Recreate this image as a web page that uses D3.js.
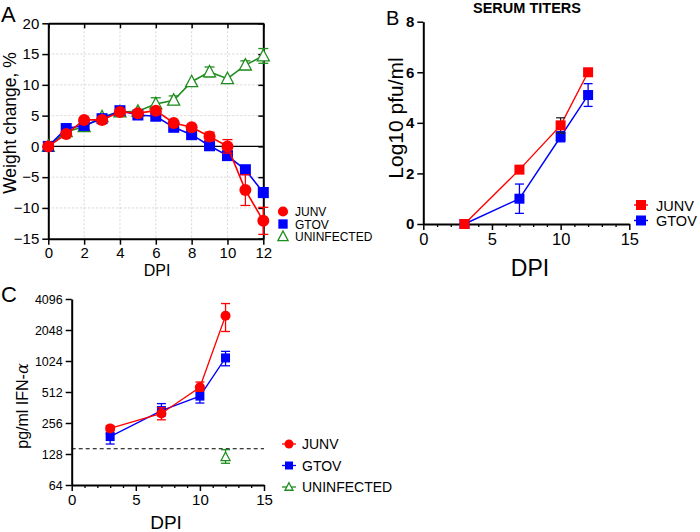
<!DOCTYPE html>
<html><head><meta charset="utf-8">
<script src="https://cdn.jsdelivr.net/npm/d3@7"></script>
<style>body{margin:0;background:#fff}svg{font-family:Arial,"Liberation Sans",sans-serif}</style>
</head><body><svg id="c" width="700" height="532"></svg>
<script>
// Panel A: weight change
const daysA = [0,1,2,3,4,5,6,7,8,9,10,11,12];
const junvA = [0,2.0,4.3,4.3,5.6,5.4,5.8,3.8,3.1,1.6,0,-7.1,-12.1];
const junvAerr = [0,0.3,0.3,0.3,0.3,0.3,0.4,0.4,0.4,0.7,1.1,2.5,2.2];
const gtovA = [0,2.9,3.4,4.5,5.8,5.1,4.9,3.1,1.9,0.1,-1.5,-3.8,-7.5];
const gtovAerr = [0,0.4,0.4,0.4,0.4,0.5,0.5,0.5,0.5,0.5,0.6,0.7,0.8];
const uninfA = [0,2.4,3.2,4.8,5.6,5.7,6.9,7.5,10.5,12.1,11.0,13.2,14.7];
const uninfAerr = [0,0.3,0.3,0.3,0.3,0.4,1.0,0.7,0.4,0.8,0.4,0.7,1.2];
const yTicksA = [-15,-10,-5,0,5,10,15,20];
const xTicksA = [0,2,4,6,8,10,12];
// Panel B: serum titers
const daysB = [3,7,10,12];
const junvB = [0,2.15,3.9,6.0];
const junvBerr = [0,0.1,0.3,0.1];
const gtovB = [0,1.0,3.45,5.1];
const gtovBerr = [0,0.58,0.2,0.45];
const yTicksB = [0,2,4,6,8];
const xTicksBC = [0,5,10,15];
// Panel C: IFN-alpha
const daysC = [3,7,10,12];
const junvC = [227,317,569,2818];
const junvClo = [215,275,520,1980];
const junvChi = [240,360,640,3700];
const gtovC = [189,338,467,1097];
const gtovClo = [160,300,400,920];
const gtovChi = [200,395,540,1270];
const uninfDayC = [12];
const uninfC = [120];
const uninfClo = [104];
const uninfChi = [141];
const limitC = 144;
const yTicksC = [64,128,256,512,1024,2048,4096];

const RED="#ff0000", BLUE="#0000ff", GREEN="#1e8c1e";
const svg = d3.select("#c");

function sym(g, type, x, y, color, size, open){
  if(type==="circle") g.append("circle").attr("cx",x).attr("cy",y).attr("r",size/2).attr("fill",color);
  else if(type==="square") g.append("rect").attr("x",x-size/2).attr("y",y-size/2).attr("width",size).attr("height",size).attr("fill",color);
  else { const h=size*0.9; g.append("path").attr("d",`M${x},${y-h*0.6}L${x+size/2},${y+h*0.45}L${x-size/2},${y+h*0.45}Z`).attr("fill",open?"#fff":color).attr("stroke",color).attr("stroke-width",1.3);}
}
function errbar(g,x,y1,y2,color,cap){
  g.append("line").attr("x1",x).attr("x2",x).attr("y1",y1).attr("y2",y2).attr("stroke",color).attr("stroke-width",1.3);
  [y1,y2].forEach(yy=>g.append("line").attr("x1",x-cap).attr("x2",x+cap).attr("y1",yy).attr("y2",yy).attr("stroke",color).attr("stroke-width",1.3));
}
function styleAxis(a,fs){a.select(".domain").attr("stroke-width",2);a.selectAll(".tick line").attr("stroke-width",1.5);a.selectAll("text").attr("font-size",fs).attr("fill","#000").attr("font-family","Arial,Liberation Sans,sans-serif");}

// ---------- Panel A ----------
{
const x = d3.scaleLinear().domain([0,12]).range([48.3,263.3]);
const y = d3.scaleLinear().domain([-15,20]).range([238.7,23.3]);
const g = svg.append("g");
g.selectAll(".gx").data(xTicksA.slice(1,-1)).join("line").attr("x1",d=>x(d)).attr("x2",d=>x(d)).attr("y1",y(20)).attr("y2",y(-15)).attr("stroke","#ccc").attr("stroke-dasharray","2,2").attr("stroke-width",0.8);
g.selectAll(".gy").data(yTicksA.slice(1,-1)).join("line").attr("y1",d=>y(d)).attr("y2",d=>y(d)).attr("x1",x(0)).attr("x2",x(12)).attr("stroke","#ccc").attr("stroke-dasharray","2,2").attr("stroke-width",0.8);
g.append("line").attr("x1",x(0)).attr("x2",x(12)).attr("y1",y(0)).attr("y2",y(0)).attr("stroke","#000").attr("stroke-width",1.2);
const ax = g.append("g").attr("transform",`translate(0,${y(-15)})`).call(d3.axisBottom(x).tickValues(xTicksA).tickSize(6).tickSizeOuter(0));
const ay = g.append("g").attr("transform",`translate(${x(0)},0)`).call(d3.axisLeft(y).tickValues(yTicksA).tickSize(6).tickSizeOuter(0));
const at = g.append("g").attr("transform",`translate(0,${y(20)})`).call(d3.axisBottom(x).tickValues(xTicksA).tickSize(5).tickSizeOuter(0).tickFormat(""));
const ar = g.append("g").attr("transform",`translate(${x(12)},0)`).call(d3.axisLeft(y).tickValues(yTicksA).tickSize(5).tickSizeOuter(0).tickFormat(""));
[ax,ay,at,ar].forEach(a=>styleAxis(a,15));
const series = [
  {v:uninfA,e:uninfAerr,c:GREEN,t:"tri",s:12},
  {v:gtovA,e:gtovAerr,c:BLUE,t:"square",s:11},
  {v:junvA,e:junvAerr,c:RED,t:"circle",s:12}
];
series.forEach(S=>{
  const line=d3.line().x((d,i)=>x(daysA[i])).y(d=>y(d));
  g.append("path").attr("d",line(S.v)).attr("fill","none").attr("stroke",S.c).attr("stroke-width",1.6);
  S.v.forEach((v,i)=>{ if(S.e[i]>0.6) errbar(g,x(daysA[i]),y(v+S.e[i]),y(v-S.e[i]),S.c,5); });
  S.v.forEach((v,i)=>sym(g,S.t,x(daysA[i]),y(v),S.c,S.s,true));
});
g.append("text").attr("x",157).attr("y",276).attr("text-anchor","middle").attr("font-size",16).text("DPI");
g.append("text").attr("transform","translate(16,123) rotate(-90)").attr("text-anchor","middle").attr("font-size",17.5).text("Weight change, %");
g.append("text").attr("x",1).attr("y",22).attr("font-size",22).text("A");
const leg=[["JUNV",RED,"circle",12],["GTOV",BLUE,"square",11],["UNINFECTED",GREEN,"tri",12]];
leg.forEach((L,i)=>{const yy=211.5+i*12.5; sym(g,L[2],283,yy,L[1],L[3]*0.85,true); g.append("text").attr("x",295).attr("y",yy+4.5).attr("font-size",12).text(L[0]);});
}

// ---------- Panel B ----------
{
const x = d3.scaleLinear().domain([0,15]).range([423.3,629.3]);
const y = d3.scaleLinear().domain([0,8]).range([224,21.7]);
const g = svg.append("g");
const ax=g.append("g").attr("transform",`translate(0,${y(0)})`).call(d3.axisBottom(x).tickValues(xTicksBC).tickSize(6).tickSizeOuter(0));
g.append("g").attr("transform",`translate(0,${y(0)})`).call(d3.axisBottom(x).tickValues(d3.range(0,16).filter(d=>d%5)).tickSize(3).tickFormat("")).call(a=>{a.select(".domain").remove();a.selectAll("line").attr("stroke-width",1.3);});
const ay=g.append("g").attr("transform",`translate(${x(0)},0)`).call(d3.axisLeft(y).tickValues(yTicksB).tickSize(6).tickSizeOuter(0));
styleAxis(ax,16.5); styleAxis(ay,15);
ay.selectAll("text").attr("font-weight","bold");
const series=[{v:gtovB,e:gtovBerr,c:BLUE},{v:junvB,e:junvBerr,c:RED}];
series.forEach(S=>{
  const line=d3.line().x((d,i)=>x(daysB[i])).y(d=>y(d));
  g.append("path").attr("d",line(S.v)).attr("fill","none").attr("stroke",S.c).attr("stroke-width",1.4);
  S.v.forEach((v,i)=>{ if(S.e[i]>0.15) errbar(g,x(daysB[i]),y(v+S.e[i]),y(v-S.e[i]),S.c===RED?"#222":S.c,4.5); });
  S.v.forEach((v,i)=>sym(g,"square",x(daysB[i]),y(v),S.c,10));
});
g.append("text").attr("x",527).attr("y",13).attr("text-anchor","middle").attr("font-size",14.5).attr("font-weight","bold").text("SERUM TITERS");
g.append("text").attr("x",386).attr("y",25).attr("font-size",20).text("B");
g.append("text").attr("x",530).attr("y",276).attr("text-anchor","middle").attr("font-size",23).text("DPI");
g.append("text").attr("transform","translate(403,118) rotate(-90)").attr("text-anchor","middle").attr("font-size",21).text("Log10 pfu/ml");
[["JUNV",RED],["GTOV",BLUE]].forEach((L,i)=>{const yy=205+i*15.5; g.append("line").attr("x1",634).attr("x2",648).attr("y1",yy).attr("y2",yy).attr("stroke",L[1]).attr("stroke-width",1.4); sym(g,"square",641,yy,L[1],10); g.append("text").attr("x",656).attr("y",yy+5.5).attr("font-size",14.5).text(L[0]);});
}

// ---------- Panel C ----------
{
const x = d3.scaleLinear().domain([0,15]).range([71.7,264]);
const y = d3.scaleLog().base(2).domain([64,4096]).range([485,299]);
const g = svg.append("g");
const ax=g.append("g").attr("transform",`translate(0,${y(64)})`).call(d3.axisBottom(x).tickValues(xTicksBC).tickSize(6).tickSizeOuter(0).tickFormat(d3.format("d")));
g.append("g").attr("transform",`translate(0,${y(64)})`).call(d3.axisBottom(x).tickValues(d3.range(0,16).filter(d=>d%5)).tickSize(3).tickFormat("")).call(a=>{a.select(".domain").remove();a.selectAll("line").attr("stroke-width",1.3);});
const ay=g.append("g").attr("transform",`translate(${x(0)},0)`).call(d3.axisLeft(y).tickValues(yTicksC).tickSize(6).tickSizeOuter(0).tickFormat(d3.format("d")));
styleAxis(ax,15); styleAxis(ay,12.5);
g.append("line").attr("x1",x(0)).attr("x2",x(15)).attr("y1",y(limitC)).attr("y2",y(limitC)).attr("stroke","#000").attr("stroke-width",1.2).attr("stroke-dasharray","4,3");
const series=[
  {v:gtovC,lo:gtovClo,hi:gtovChi,c:BLUE,t:"square",s:9},
  {v:junvC,lo:junvClo,hi:junvChi,c:RED,t:"circle",s:10}
];
series.forEach(S=>{
  const line=d3.line().x((d,i)=>x(daysC[i])).y(d=>y(d));
  g.append("path").attr("d",line(S.v)).attr("fill","none").attr("stroke",S.c).attr("stroke-width",1.3);
  S.v.forEach((v,i)=>errbar(g,x(daysC[i]),y(S.hi[i]),y(S.lo[i]),S.c,4.5));
  S.v.forEach((v,i)=>sym(g,S.t,x(daysC[i]),y(v),S.c,S.s));
});
uninfC.forEach((v,i)=>{errbar(g,x(uninfDayC[i]),y(uninfChi[i]),y(uninfClo[i]),GREEN,4.5); sym(g,"tri",x(uninfDayC[i]),y(v),GREEN,9,true);});
g.append("text").attr("x",1).attr("y",302).attr("font-size",22).text("C");
g.append("text").attr("x",166).attr("y",529).attr("text-anchor","middle").attr("font-size",19).text("DPI");
const yl=g.append("text").attr("transform","translate(28,406) rotate(-90)").attr("text-anchor","middle").attr("font-size",16);
yl.append("tspan").text("pg/ml  IFN-");
yl.append("tspan").attr("font-family","DejaVu Serif,serif").attr("font-style","italic").text("α");
[["JUNV",RED,"circle",9],["GTOV",BLUE,"square",8],["UNINFECTED",GREEN,"tri",8]].forEach((L,i)=>{const yy=444+i*21.5; g.append("line").attr("x1",282).attr("x2",296).attr("y1",yy).attr("y2",yy).attr("stroke",L[1]).attr("stroke-width",1.3); sym(g,L[2],289,yy,L[1],L[3],true); g.append("text").attr("x",302).attr("y",yy+5).attr("font-size",14).text(L[0]);});
}
</script></body></html>
